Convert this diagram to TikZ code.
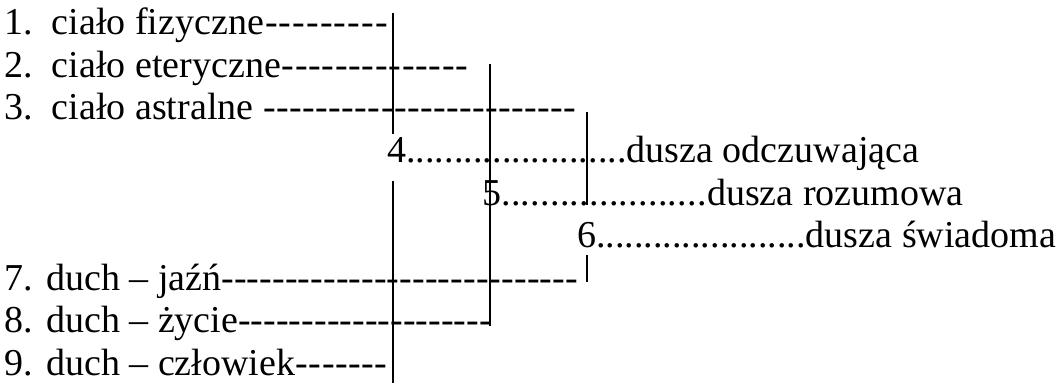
\documentclass[tikz,border=0pt]{standalone}
\usepackage{fontspec}
\setmainfont{Liberation Serif}
\newfontfamily\tnr{Liberation Serif}
\newcommand{\myDashes}{\xleaders\hbox{-}\hfill}
\newcommand{\myDots}{\xleaders\hbox{.}\hfill}
\begin{document}
\begin{tikzpicture}[x=1pt,y=-1pt,
  row/.style={anchor=base west,inner sep=0pt,outer sep=0pt,font=\tnr\fontsize{38}{44}\selectfont},
  bar/.style={line width=1.6pt}]
\useasboundingbox[fill=white] (0,0) rectangle (1058,385);
% rows
\node[row] (r1) at (5,35)      {\makebox[384pt][l]{\makebox[47pt][l]{1.}ciało fizyczne\myDashes}};
\node[row] (r2) at (5,77.5)    {\makebox[464pt][l]{\makebox[47pt][l]{2.}ciało eteryczne\myDashes}};
\node[row] (r3) at (5,120)     {\makebox[572pt][l]{\makebox[47pt][l]{3.}ciało astralne \myDashes}};
\node[row] (r4) at (387,162.5) {\makebox[240pt][l]{4\myDots}dusza odczuwająca};
\node[row] (r5) at (482,205)   {\makebox[225pt][l]{5\myDots}dusza rozumowa};
\node[row] (r6) at (577,247.5) {\makebox[229pt][l]{6\myDots}dusza świadoma};
\node[row] (r7) at (5,290)     {\makebox[573pt][l]{7. duch – jaźń\myDashes}};
\node[row] (r8) at (5,332.5)   {\makebox[487pt][l]{8. duch – życie\myDashes}};
\node[row] (r9) at (5,375)     {\makebox[383pt][l]{9. duch – człowiek\myDashes}};
% vertical bars
\coordinate (a1) at (393,13);  \coordinate (a2) at (393,134);
\coordinate (a3) at (393,181); \coordinate (a4) at (393,383);
\coordinate (b1) at (490,64);  \coordinate (b2) at (490,326);
\coordinate (c1) at (587,112); \coordinate (c2) at (587,205);
\coordinate (c3) at (587,255); \coordinate (c4) at (587,282);
\draw[bar] (a1) -- (a2);
\draw[bar] (a3) -- (a4);
\draw[bar] (b1) -- (b2);
\draw[bar] (c1) -- (c2);
\draw[bar] (c3) -- (c4);
\end{tikzpicture}
\end{document}
